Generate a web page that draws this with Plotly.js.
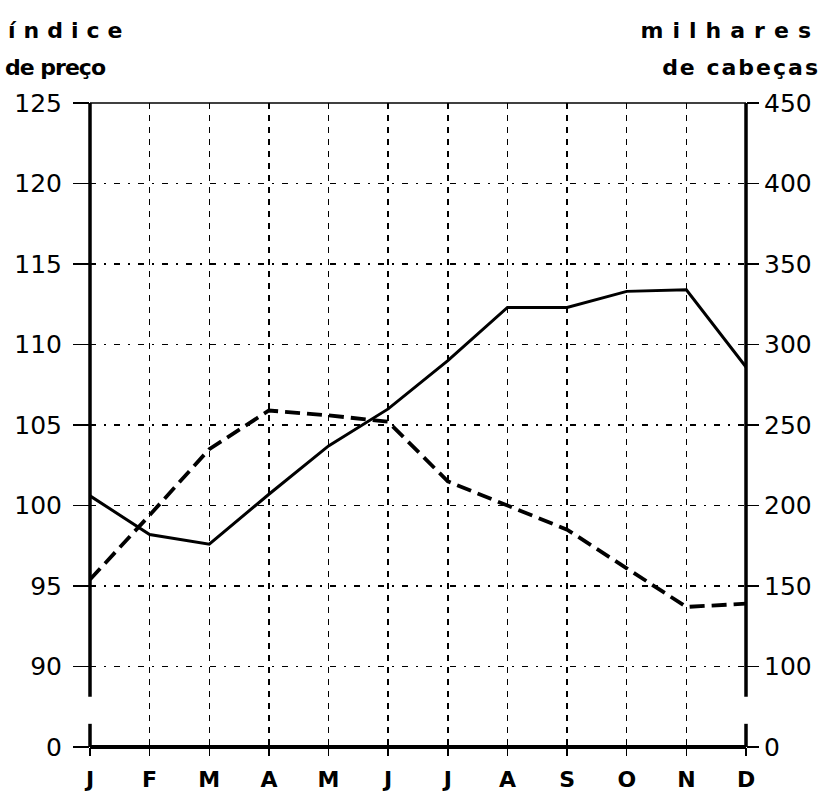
<!DOCTYPE html>
<html>
<head>
<meta charset="utf-8">
<script src="https://cdn.plot.ly/plotly-3.0.1.min.js"></script>
<style>
  html, body { margin: 0; padding: 0; background: #fff; }
  #chart { width: 825px; height: 792px; }
</style>
</head>
<body>
<div id="chart"></div>
<script>
// ---- data ----
const monthPos = [0, 1, 2, 3, 4, 5, 6, 7, 8, 9, 10, 11];
const monthLabels = ['J', 'F', 'M', 'A', 'M', 'J', 'J', 'A', 'S', 'O', 'N', 'D'];
// price index (left axis, solid line)
const priceIndex = [100.6, 98.2, 97.6, 100.7, 103.7, 106.0, 109.0, 112.3, 112.3, 113.3, 113.4, 108.6];
// thousands of head (right axis, dashed line)
const thousandHeads = [154, 194, 235, 259, 256, 252, 215, 200, 185, 161, 137, 139];
// axis ticks (broken axes: lowest tick shows 0)
const leftTickVals = [85, 90, 95, 100, 105, 110, 115, 120, 125];
const leftTickText = ['0', '90', '95', '100', '105', '110', '115', '120', '125'];
const rightTickVals = [50, 100, 150, 200, 250, 300, 350, 400, 450];
const rightTickText = ['0', '100', '150', '200', '250', '300', '350', '400', '450'];

const FONT = 'DejaVu Sans, sans-serif';

const traces = [
  {
    x: monthPos, y: priceIndex, type: 'scatter', mode: 'lines',
    line: { color: '#000', width: 3 }, yaxis: 'y', hoverinfo: 'skip'
  },
  {
    x: monthPos, y: thousandHeads, type: 'scatter', mode: 'lines',
    line: { color: '#000', width: 3.8, dash: '15px,7px' }, yaxis: 'y2', hoverinfo: 'skip'
  }
];

const breakTop = 0.078, breakBottom = 0.036;

const layout = {
  width: 825, height: 792,
  margin: { l: 90, r: 79, t: 103, b: 45 },
  paper_bgcolor: '#fff', plot_bgcolor: '#fff',
  showlegend: false,
  font: { family: FONT, color: '#000' },
  xaxis: {
    range: [0, 11],
    tickvals: monthPos, ticktext: monthLabels,
    ticks: 'outside', ticklen: 8, tickwidth: 1.5, tickcolor: '#000',
    showgrid: true, gridcolor: '#000', gridwidth: 1.5, griddash: '6px,6px',
    showline: false, zeroline: false,
    tickfont: { family: FONT, size: 22, color: '#000', weight: 'bold' },
    ticklabelstandoff: 5
  },
  yaxis: {
    range: [85, 125],
    tickvals: leftTickVals, ticktext: leftTickText,
    ticks: 'outside', ticklen: 16, tickwidth: 1.5, tickcolor: '#000',
    showgrid: true, gridcolor: '#000', gridwidth: 1.5, griddash: '6px,8px,2px,8px',
    showline: false, zeroline: false,
    ticklabelstandoff: 6,
    tickfont: { family: FONT, size: 25, color: '#000' }
  },
  yaxis2: {
    range: [50, 450], overlaying: 'y', side: 'right',
    tickvals: rightTickVals, ticktext: rightTickText,
    ticks: 'outside', ticklen: 12, tickwidth: 1.5, tickcolor: '#000',
    showgrid: false, showline: false, zeroline: false,
    tickfont: { family: FONT, size: 25, color: '#000' }
  },
  shapes: [
    { type: 'line', xref: 'paper', yref: 'paper', x0: 0, x1: 1, y0: 1, y1: 1, line: { color: '#000', width: 1.5 } },
    { type: 'line', xref: 'paper', yref: 'paper', x0: 0, x1: 1, y0: 0, y1: 0, line: { color: '#000', width: 4 } },
    { type: 'line', xref: 'paper', yref: 'paper', x0: 0, x1: 0, y0: breakTop, y1: 1, line: { color: '#000', width: 3.5 } },
    { type: 'line', xref: 'paper', yref: 'paper', x0: 0, x1: 0, y0: 0, y1: breakBottom, line: { color: '#000', width: 3.5 } },
    { type: 'line', xref: 'paper', yref: 'paper', x0: 1, x1: 1, y0: breakTop, y1: 1, line: { color: '#000', width: 3.5 } },
    { type: 'line', xref: 'paper', yref: 'paper', x0: 1, x1: 1, y0: 0, y1: breakBottom, line: { color: '#000', width: 3.5 } }
  ],
  annotations: [
    { text: 'índice', xref: 'paper', yref: 'paper', x: 0, y: 1.112, xanchor: 'left', yanchor: 'middle', showarrow: false, font: { family: FONT, size: 22, color: '#000', weight: 'bold' } },
    { text: 'de preço', xref: 'paper', yref: 'paper', x: 0, y: 1.055, xanchor: 'left', yanchor: 'middle', showarrow: false, font: { family: FONT, size: 22, color: '#000', weight: 'bold' } },
    { text: 'milhares', xref: 'paper', yref: 'paper', x: 0.9, y: 1.112, xanchor: 'right', yanchor: 'middle', showarrow: false, font: { family: FONT, size: 22, color: '#000', weight: 'bold' } },
    { text: 'de cabeças', xref: 'paper', yref: 'paper', x: 0.9, y: 1.055, xanchor: 'right', yanchor: 'middle', showarrow: false, font: { family: FONT, size: 22, color: '#000', weight: 'bold' } }
  ]
};

Plotly.newPlot('chart', traces, layout, { displayModeBar: false, staticPlot: true }).then(function () {
  // [letterSpacing, side, edge in page px]
  const spec = [
    ['8px', 'left', 8],
    ['-1px', 'left', 5],
    ['9px', 'right', 820],
    ['2px', 'right', 820]
  ];
  const host = document.getElementById('chart').getBoundingClientRect();
  document.querySelectorAll('#chart g.annotation text.annotation-text').forEach(function (t, i) {
    const s = spec[i];
    if (!s) return;
    t.style.letterSpacing = s[0];
    const r = t.getBoundingClientRect();
    let dx;
    if (s[1] === 'left') dx = (host.left + s[2]) - r.left;
    else dx = (host.left + s[2]) - r.right;
    const cur = parseFloat(t.getAttribute('x')) || 0;
    t.setAttribute('x', cur + dx);
    t.querySelectorAll('tspan[x]').forEach(function (ts) {
      ts.setAttribute('x', (parseFloat(ts.getAttribute('x')) || 0) + dx);
    });
  });
});
</script>
</body>
</html>
